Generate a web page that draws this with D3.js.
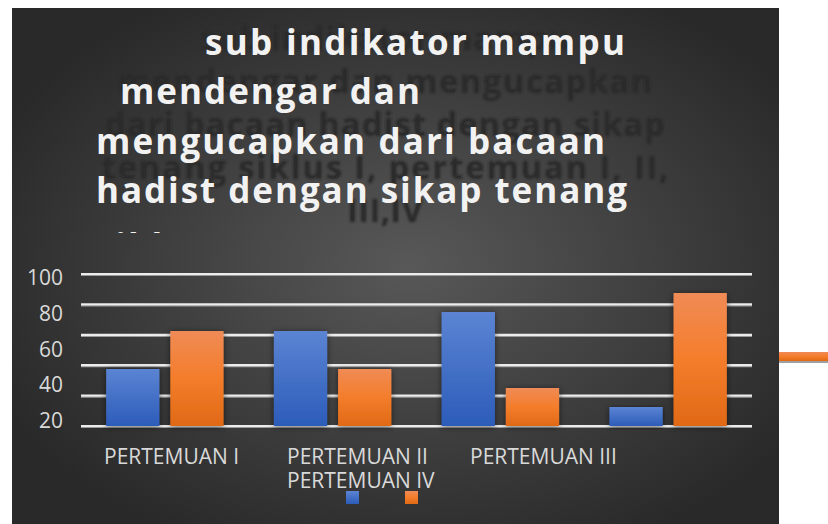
<!DOCTYPE html>
<html>
<head>
	<meta charset="utf-8">
	<script src="https://cdn.jsdelivr.net/npm/d3@7"></script>
	<style>
		body { margin: 0; background: #fff; }
	</style>
</head>
<body>
	<script>
		// chart data
		var categories = ["PERTEMUAN I", "PERTEMUAN II", "PERTEMUAN III", "PERTEMUAN IV"];
		var seriesNames = ["", ""];
		var seriesA = [37.5, 62.5, 75, 12.5];
		var seriesB = [62.5, 37.5, 25, 87.5];
		var yTicks = [0, 20, 40, 60, 80, 100];
		var yTickLabels = ["100", "80", "60", "40", "20"];

		var titleLines = ["sub indikator mampu", "mendengar dan", "mengucapkan dari bacaan",
			"hadist dengan sikap tenang", "siklus I, pertemuan I, II, III,IV"];
		var shadowLines = ["sub indikator mampu", "mendengar dan mengucapkan",
			"dari bacaan hadist dengan sikap", "tenang siklus I, pertemuan I, II,", "III,IV"];

		var W = 828, H = 524;
		var colors = ["blue", "orange"];

		var svg = d3.select("body").append("svg")
			.attr("width", W)
			.attr("height", H);

		var defs = svg.append("defs");

		var bg = defs.append("radialGradient")
			.attr("id", "bg")
			.attr("cx", "52%").attr("cy", "50%").attr("r", "60%");
		bg.append("stop").attr("offset", "0%").attr("stop-color", "#585858");
		bg.append("stop").attr("offset", "100%").attr("stop-color", "#292929");

		var gBlue = defs.append("linearGradient").attr("id", "blue")
			.attr("x1", 0).attr("y1", 0).attr("x2", 0).attr("y2", 1);
		gBlue.append("stop").attr("offset", "0%").attr("stop-color", "#5b84d3");
		gBlue.append("stop").attr("offset", "100%").attr("stop-color", "#2c5cb9");

		var gOr = defs.append("linearGradient").attr("id", "orange")
			.attr("x1", 0).attr("y1", 0).attr("x2", 0).attr("y2", 1);
		gOr.append("stop").attr("offset", "0%").attr("stop-color", "#f08b56");
		gOr.append("stop").attr("offset", "50%").attr("stop-color", "#f47d2b");
		gOr.append("stop").attr("offset", "100%").attr("stop-color", "#e06916");

		var sh = defs.append("filter").attr("id", "shadow")
			.attr("x", "-30%").attr("y", "-10%").attr("width", "160%").attr("height", "130%");
		sh.append("feDropShadow").attr("dx", 0).attr("dy", 1)
			.attr("stdDeviation", 3).attr("flood-color", "#000").attr("flood-opacity", 0.55);

		var blur = defs.append("filter").attr("id", "blur");
		blur.append("feGaussianBlur").attr("stdDeviation", 1.2);

		// the last title line is cut off, only the tips of tall letters show
		defs.append("clipPath").attr("id", "titleClip")
			.append("rect").attr("x", 0).attr("y", 0).attr("width", W).attr("height", 233);

		// panel
		svg.append("rect")
			.attr("x", 12).attr("y", 8)
			.attr("width", 767).attr("height", H - 8)
			.style("fill", "url(#bg)");

		// dark blurred title behind
		var shadowW = [370, 535, 560, 567, 76];
		svg.append("g")
			.attr("filter", "url(#blur)")
			.selectAll("text")
			.data(shadowLines)
			.enter().append("text")
			.attr("x", 385)
			.attr("y", function(d, i) { return 50 + i * 43; })
			.attr("text-anchor", "middle")
			.attr("textLength", function(d, i) { return shadowW[i]; })
			.attr("lengthAdjust", "spacing")
			.style("font-family", "'Open Sans', sans-serif")
			.style("font-weight", "bold")
			.style("font-size", "33px")
			.style("fill", "#2a2a2a")
			.text(function(d) { return d; });

		// white title
		var titleX = [205, 120, 96, 96, 96];
		var titleY = [55, 104, 154, 203, 258.6];
		var titleW = [420, 300, 509, 531, 560];
		svg.append("g")
			.attr("clip-path", "url(#titleClip)")
			.selectAll("text")
			.data(titleLines)
			.enter().append("text")
			.attr("x", function(d, i) { return titleX[i]; })
			.attr("y", function(d, i) { return titleY[i]; })
			.attr("textLength", function(d, i) { return titleW[i]; })
			.attr("lengthAdjust", "spacing")
			.style("font-family", "'Open Sans', sans-serif")
			.style("font-weight", "bold")
			.style("font-size", "35px")
			.style("fill", "#f2f2f2")
			.text(function(d) { return d; });

		// scales
		var x0 = d3.scaleBand()
			.domain(categories)
			.range([81, 752])
			.paddingInner(0.3)
			.paddingOuter(0.15);

		var x1 = d3.scaleBand()
			.domain([0, 1])
			.range([0, x0.bandwidth()])
			.paddingInner(0.17);

		var y = d3.scaleLinear()
			.domain([0, 100])
			.range([426, 274]);

		var yLab = d3.scalePoint()
			.domain(yTickLabels)
			.range([285, 428]);

		// gridlines
		var grid = svg.append("g");
		grid.selectAll("line.s")
			.data(yTicks)
			.enter().append("line")
			.attr("x1", 81).attr("x2", 752)
			.attr("y1", function(d) { return y(d) + 1.5; })
			.attr("y2", function(d) { return y(d) + 1.5; })
			.style("stroke", "#9a9a9a")
			.style("stroke-width", 1.2);
		grid.selectAll("line.g")
			.data(yTicks)
			.enter().append("line")
			.attr("x1", 81).attr("x2", 752)
			.attr("y1", function(d) { return y(d); })
			.attr("y2", function(d) { return y(d); })
			.style("stroke", "#ececec")
			.style("stroke-width", 2.2);

		// y labels
		svg.append("g").selectAll("text")
			.data(yTickLabels)
			.enter().append("text")
			.attr("x", 63)
			.attr("y", function(d) { return yLab(d); })
			.attr("text-anchor", "end")
			.style("font-family", "'Open Sans', sans-serif")
			.style("font-size", "21px")
			.style("fill", "#d9d9d9")
			.text(function(d) { return d; });

		// bars
		var rows = categories.map(function(c, i) { return [seriesA[i], seriesB[i]]; });
		svg.append("g").selectAll("g")
			.data(rows)
			.enter().append("g")
			.attr("transform", function(d, i) { return "translate(" + x0(categories[i]) + ",0)"; })
			.selectAll("rect")
			.data(function(d) { return d; })
			.enter().append("rect")
			.attr("x", function(d, j) { return x1(j); })
			.attr("y", function(d) { return y(d); })
			.attr("width", x1.bandwidth())
			.attr("height", function(d) { return y(0) - y(d); })
			.attr("filter", "url(#shadow)")
			.style("fill", function(d, j) { return "url(#" + colors[j] + ")"; });

		// category labels, flowing like the original
		var labX = [104, 287, 470, 287];
		var labRow = [0, 0, 0, 1];
		svg.append("g").selectAll("text")
			.data(categories)
			.enter().append("text")
			.attr("x", function(d, i) { return labX[i]; })
			.attr("y", function(d, i) { return 464 + labRow[i] * 23.5; })
			.style("font-family", "'Open Sans', sans-serif")
			.style("font-size", "21px")
			.style("fill", "#d9d9d9")
			.text(function(d) { return d; });

		// legend
		var legX = [346, 405];
		var leg = svg.append("g").selectAll("g")
			.data(seriesNames)
			.enter().append("g")
			.attr("transform", function(d, i) { return "translate(" + legX[i] + ",491)"; });
		leg.append("rect")
			.attr("width", 13).attr("height", 13)
			.style("fill", function(d, i) { return "url(#" + colors[i] + ")"; });
		leg.append("text")
			.attr("x", 17).attr("y", 11)
			.style("font-size", "14px")
			.style("fill", "#d9d9d9")
			.text(function(d) { return d; });

		// stray orange stroke outside the panel
		svg.append("rect")
			.attr("x", 779).attr("y", 361).attr("width", 49).attr("height", 2)
			.style("fill", "#a0a0a0");
		svg.append("rect")
			.attr("x", 779).attr("y", 352).attr("width", 49).attr("height", 9)
			.style("fill", "url(#orange)");
	</script>
</body>
</html>
